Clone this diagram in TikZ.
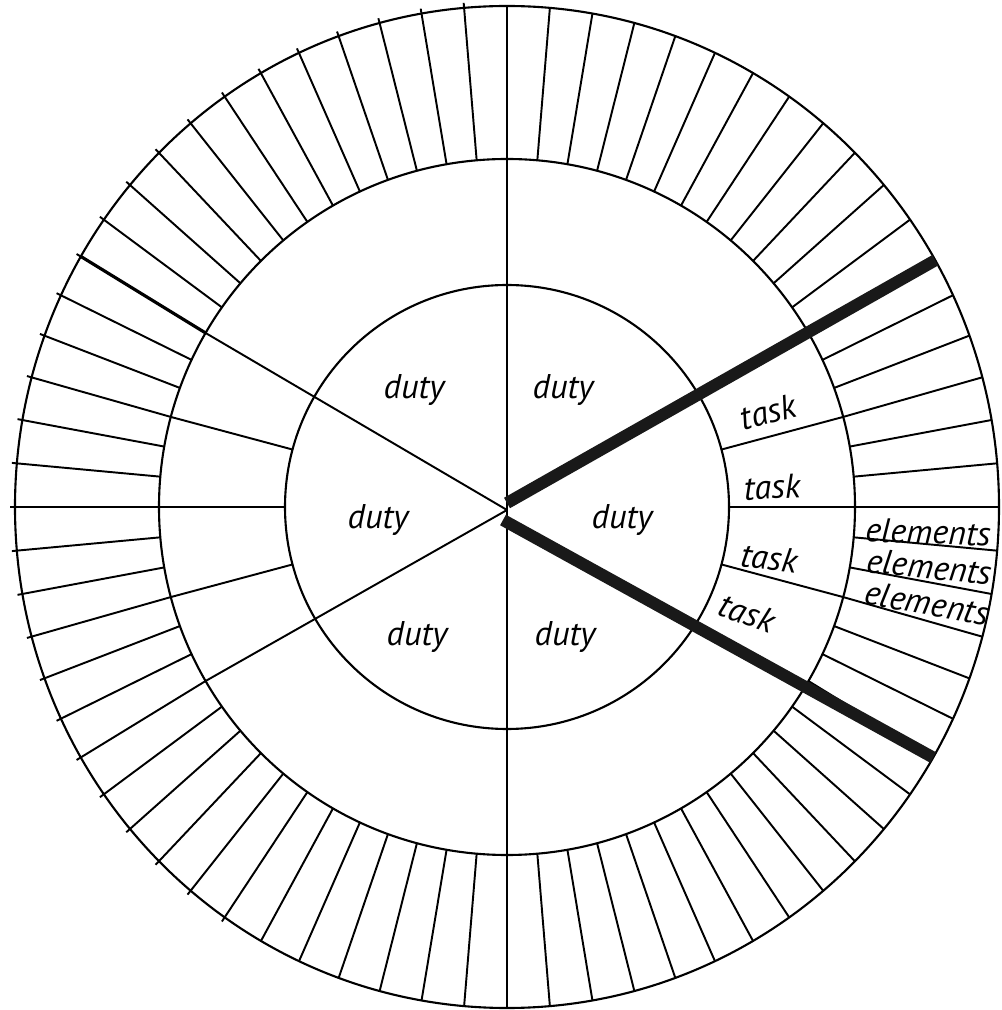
\documentclass[tikz,border=0pt]{standalone}
\usepackage{fontspec}
\newfontfamily\cellfont{PT Sans}
\usetikzlibrary{calc}
\tikzstyle{ring} = [draw=black, line width=1.2pt]
\tikzstyle{spoke} = [draw=black, line width=1.1pt]
\tikzstyle{heavyspoke} = [draw=black, line width=1.8pt]
\tikzstyle{band} = [draw=black!90, line width=0.24cm]
\tikzstyle{celltext} = [font=\cellfont\itshape\fontsize{19.5}{21}\selectfont, inner sep=0pt]

\begin{document}
\begin{tikzpicture}[x=0.02cm, y=0.02cm]
        \useasboundingbox (-507,-503) rectangle (494,507);
        \coordinate (hub) at (0,-3);

        % Circles
        \draw[ring] (0,0) ellipse [x radius=492, y radius=501];
        \draw[ring] (0,0) circle [radius=348];
        \draw[ring] (0,0) circle [radius=222];

        % Element divisions
        \foreach \a in {-120,-115,...,90}
            \draw[spoke] (\a:348) -- (\a:492 and 501);
        \foreach \a in {95,100,...,235}
            \draw[spoke] (\a:348) -- (\a:497 and 506);

        % Task divisions
        \foreach \a in {-15,0,15,165,180,195}
            \draw[spoke] (\a:222) -- (\a:348);

        % Duty divisions
        \foreach \a in {90,150,210,270}
            \draw[spoke] (hub) -- (\a:348);
        \draw[heavyspoke] (150:348) -- (150:492 and 501);

        % Highlighted duty
        \coordinate (bandtop) at (0,4);
        \coordinate (bandfoot) at (-4,-13);
        \draw[band] (bandtop) -- (29.5:492 and 501);
        \draw[band] (bandfoot) -- (-30:492 and 501);

        % Duties
        \node[celltext] (dutyul) at (-93,117) {duty};
        \node[celltext] (dutyur) at (56,117) {duty};
        \node[celltext] (dutyl) at (-129,-13) {duty};
        \node[celltext] (dutyr) at (115,-13) {duty};
        \node[celltext] (dutybl) at (-90,-130) {duty};
        \node[celltext] (dutybr) at (58,-130) {duty};

        % Tasks
        \node[celltext, rotate=15] (taska) at (261,95) {task};
        \node[celltext, rotate=3] (taskb) at (265,20) {task};
        \node[celltext, rotate=-7] (taskc) at (262,-51) {task};
        \node[celltext, rotate=-20] (taskd) at (240,-106) {task};

        % Elements
        \node[celltext, rotate=-2] (elema) at (421,-25) {elements};
        \node[celltext, rotate=-6] (elemb) at (422,-60) {elements};
        \node[celltext, rotate=-10] (elemc) at (420,-96) {elements};
    \end{tikzpicture}
\end{document}
